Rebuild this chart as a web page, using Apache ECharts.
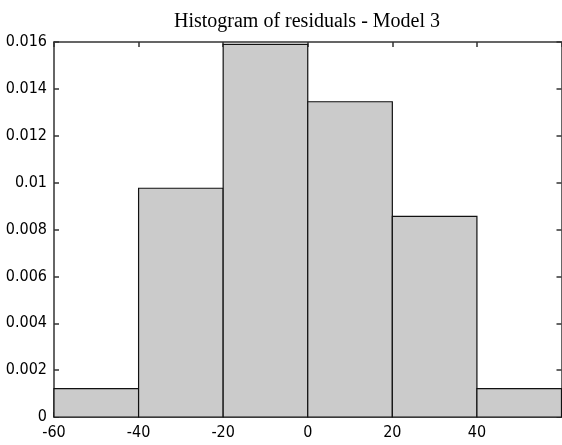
<!DOCTYPE html>
<html>
<head>
<meta charset="utf-8">
<script src="https://cdn.jsdelivr.net/npm/echarts@6/dist/echarts.min.js"></script>
<style>
  html, body { margin: 0; padding: 0; background: #fff; }
  #main { width: 562px; height: 445px; }
</style>
</head>
<body>
<div id="main"></div>
<script>
// histogram bins (left edges), bin width and density values
const binStarts = [-60, -40, -20, 0, 20, 40];
const binWidth = 20;
const density = [0.00121, 0.00976, 0.0159, 0.01345, 0.00856, 0.00121];
const xTicks = [-60, -40, -20, 0, 20, 40, 60];

const tickFont = '"DejaVu Sans Condensed", "Liberation Sans Narrow", sans-serif';

const chart = echarts.init(document.getElementById('main'));

const axisLine = { show: true, onZero: false, lineStyle: { color: '#333', width: 1.5 } };
const axisTick = { show: true, inside: true, length: 5, lineStyle: { color: '#333', width: 1.5 } };

const option = {
  animation: false,
  title: {
    text: 'Histogram of residuals - Model 3',
    left: 302,
    textAlign: 'center',
    top: 7,
    textStyle: { fontFamily: '"Liberation Serif", serif', fontSize: 20, fontWeight: 'normal', color: '#000' }
  },
  grid: { left: 54, right: 0.5, top: 42, bottom: 28, outerBoundsMode: 'none' },
  xAxis: [
    {
      type: 'value', min: -60, max: 60, interval: 20, position: 'bottom',
      axisLine, axisTick, splitLine: { show: false },
      axisLabel: {
        margin: 8, color: '#000', fontFamily: tickFont, fontSize: 16,
        formatter: v => (xTicks.indexOf(v) >= 0 && v !== 60 ? String(v) : '')
      }
    },
    {
      type: 'value', min: -60, max: 60, interval: 20, position: 'top',
      axisLine, axisTick, splitLine: { show: false }, axisLabel: { show: false }
    }
  ],
  yAxis: [
    {
      type: 'value', min: 0, max: 0.016, interval: 0.002, position: 'left',
      axisLine, axisTick, splitLine: { show: false },
      axisLabel: { margin: 7, color: '#000', fontFamily: tickFont, fontSize: 16 }
    },
    {
      type: 'value', min: 0, max: 0.016, interval: 0.002, position: 'right',
      axisLine, axisTick, splitLine: { show: false }, axisLabel: { show: false }
    }
  ],
  series: [{
    type: 'custom',
    xAxisIndex: 0,
    yAxisIndex: 0,
    data: binStarts.map((s, i) => [s, s + binWidth, density[i]]),
    renderItem: function (params, api) {
      const p0 = api.coord([api.value(0), 0]);
      const p1 = api.coord([api.value(1), api.value(2)]);
      return {
        type: 'rect',
        shape: { x: p0[0], y: p1[1], width: p1[0] - p0[0], height: p0[1] - p1[1] },
        style: { fill: '#cbcbcb', stroke: '#111', lineWidth: 1.2 }
      };
    }
  }]
};

chart.setOption(option);
</script>
</body>
</html>
